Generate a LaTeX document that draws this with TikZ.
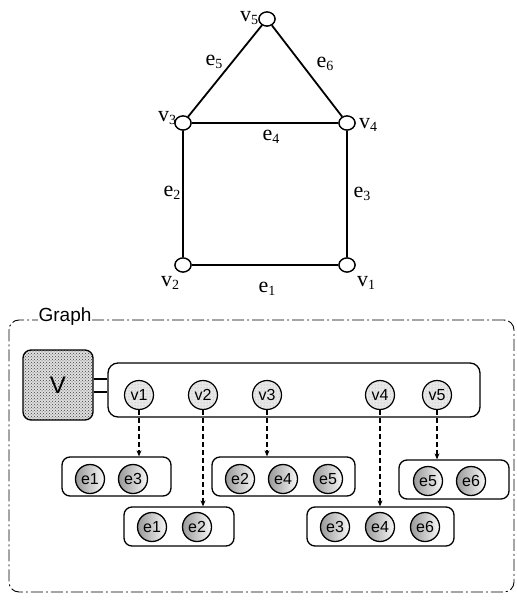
\documentclass[tikz,border=0pt]{standalone}
\usepackage{fontspec}
\setmainfont{Liberation Serif}
\setsansfont{Liberation Sans}
\usetikzlibrary{patterns,arrows.meta,shapes.geometric}
\newcommand{\lbl}[2]{#1\raisebox{-0.35ex}{\fontsize{14}{14}\selectfont #2}}
\begin{document}
\begin{tikzpicture}[x=1pt,y=-1pt,
  gv/.style={ellipse,draw,line width=1.3pt,fill=white,minimum width=16pt,minimum height=14pt,inner sep=0pt},
  gl/.style={font=\fontsize{22}{22}\selectfont,inner sep=0pt},
  gedge/.style={line width=1.8pt},
  lbox/.style={draw,line width=1.3pt,rounded corners=8pt,inner sep=0pt},
  vc/.style={circle,draw,line width=1.2pt,minimum size=29pt,inner sep=0pt,preaction={fill=gray!18},pattern=dots,pattern color=gray!70,font=\sffamily\fontsize{16}{16}\selectfont},
  ec/.style={circle,draw,line width=1.3pt,minimum size=29pt,inner sep=0pt,left color=gray!80,right color=gray!5,font=\sffamily\fontsize{16}{16}\selectfont},
  darr/.style={line width=1.1pt,dash pattern=on 5pt off 3pt,-{Stealth[length=6pt,width=5pt]}},
  frame/.style={draw,line width=0.9pt,rounded corners=10pt,dash pattern=on 12pt off 3pt on 2pt off 3pt,inner sep=0pt}
]
\useasboundingbox (0,0) rectangle (516,601);
% ---- top graph ----
\node[gv] (v5) at (267,19) {};
\node[gv] (v3) at (183,123) {};
\node[gv] (v4) at (347,123) {};
\node[gv] (v2) at (183,265) {};
\node[gv] (v1) at (347,265) {};
\draw[gedge] (v3) -- (v5);
\draw[gedge] (v5) -- (v4);
\draw[gedge] (v3) -- (v4);
\draw[gedge] (v3) -- (v2);
\draw[gedge] (v4) -- (v1);
\draw[gedge] (v2) -- (v1);
\foreach \n in {v1,v2,v3,v4,v5} {\node[gv] at (\n) {};}
\node[gl] (le5) at (214,62) {\lbl{e}{5}};
\node[gl] (le6) at (325,64) {\lbl{e}{6}};
\node[gl] (le4) at (271,137) {\lbl{e}{4}};
\node[gl] (le2) at (172,193) {\lbl{e}{2}};
\node[gl] (le3) at (362,194) {\lbl{e}{3}};
\node[gl] (le1) at (267,289) {\lbl{e}{1}};
\node[gl] (lv5) at (249,18) {\lbl{v}{5}};
\node[gl] (lv3) at (167,118) {\lbl{v}{3}};
\node[gl] (lv4) at (368,125) {\lbl{v}{4}};
\node[gl] (lv2) at (170,283) {\lbl{v}{2}};
\node[gl] (lv1) at (366,283) {\lbl{v}{1}};
% ---- bottom structure ----
\node[frame,minimum width=505pt,minimum height=272pt] (G) at (261.5,456) {};
\node[fill=white,inner xsep=1pt,inner ysep=0pt,font=\sffamily\fontsize{19}{19}\selectfont] (gt) at (65,317) {Graph};
\node[draw,line width=1.3pt,rounded corners=8pt,minimum width=70pt,minimum height=70pt,preaction={fill=gray!25},pattern=crosshatch dots,pattern color=black!75,inner sep=0pt,font=\sffamily\fontsize{24}{24}\selectfont] (Vb) at (58,385) {V};
\node[lbox,minimum width=372pt,minimum height=54pt,rounded corners=10pt] (cont) at (294,390) {};
\coordinate (ya) at (0,379);
\coordinate (yb) at (0,392);
\draw[line width=1.2pt] (Vb.east |- ya) -- (cont.west |- ya);
\draw[line width=1.2pt] (Vb.east |- yb) -- (cont.west |- yb);
\node[vc] (c1) at (139,395) {v1};
\node[vc] (c2) at (203,395) {v2};
\node[vc] (c3) at (267,395) {v3};
\node[vc] (c4) at (380,395) {v4};
\node[vc] (c5) at (437,395) {v5};
% edge lists
\node[lbox,minimum width=109pt,minimum height=39pt] (bA) at (116.5,476.5) {};
\node[lbox,minimum width=143pt,minimum height=39pt] (bB) at (283.5,476.5) {};
\node[lbox,minimum width=110pt,minimum height=39pt] (bC) at (454,479.5) {};
\node[lbox,minimum width=110pt,minimum height=39pt] (bD) at (179,526.5) {};
\node[lbox,minimum width=147pt,minimum height=39pt] (bE) at (380.5,526.5) {};
\node[ec] (a1) at (90,479) {e1};
\node[ec] (a3) at (133,479) {e3};
\node[ec] (b2) at (240,479) {e2};
\node[ec] (b4) at (283,479) {e4};
\node[ec] (b5) at (328,479) {e5};
\node[ec] (c5e) at (428,481) {e5};
\node[ec] (c6e) at (471,481) {e6};
\node[ec] (d1) at (152,527) {e1};
\node[ec] (d2) at (197,527) {e2};
\node[ec] (f3) at (335,527) {e3};
\node[ec] (f4) at (380,527) {e4};
\node[ec] (f6) at (425,527) {e6};
% arrows
\draw[darr] (c1.south) -- (c1.south |- bA.north);
\draw[darr] (c2.south) -- (c2.south |- bD.north);
\draw[darr] (c3.south) -- (c3.south |- bB.north);
\draw[darr] (c4.south) -- (c4.south |- bE.north);
\draw[darr] (c5.south) -- (c5.south |- bC.north);
\end{tikzpicture}
\end{document}
